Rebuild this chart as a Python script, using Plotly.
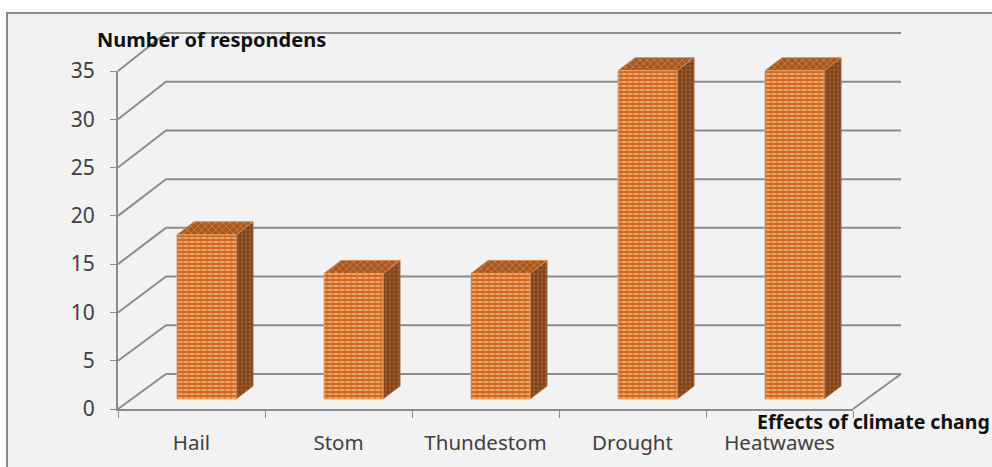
import plotly.graph_objects as go

categories = ["Hail", "Stom", "Thundestom", "Drought", "Heatwawes"]
respondents = [17, 13, 13, 34, 34]
y_ticks = [0, 5, 10, 15, 20, 25, 30, 35]
y_title = "Number of respondens"
x_title = "Effects of climate chang"

W, H = 992, 467
X0, X1 = 118, 853      # axis span in the frame
Y0, Y35 = 409, 71
wall_dx = 48 / 147      # depth of the 3-D box, category units
wall_rise = 35 / 9.657  # value units
wall_scale = 341 / 338
bar_shift = 15 / 147
bar_lift = 10 / 9.657
bar_w = 59 / 147
bar_dx = 17 / 147
bar_dy = 13 / 9.657

GRID = "#8c8c8c"
idx = list(range(len(categories)))
x_lo, x_hi = -0.5, len(categories) - 0.5
px_per_cat = (X1 - X0) / (x_hi - x_lo)
px_per_val = (Y0 - Y35) / 35
# the same scales stretched over the whole canvas, so the box can leave the axis span
x_full = [x_lo - X0 / px_per_cat, x_hi + (W - X1) / px_per_cat]
y_full = [(Y0 - H) / px_per_val, Y0 / px_per_val]

fig = go.Figure()

# axes carrier: holds the real ticks and labels
fig.add_trace(go.Scatter(x=idx, y=respondents, mode="markers", marker=dict(opacity=0),
                         hoverinfo="skip", showlegend=False))

# side wall and back wall grid lines, plus the floor
gx, gy = [], []
for t in y_ticks:
    back = t * wall_scale + wall_rise
    gx += [x_lo, x_lo + wall_dx, x_hi + wall_dx, None]
    gy += [t, back, back, None]
gx += [x_hi, x_hi + wall_dx, None]
gy += [0, wall_rise, None]
fig.add_trace(go.Scatter(x=gx, y=gy, mode="lines", line=dict(color=GRID, width=2),
                         xaxis="x2", yaxis="y2", hoverinfo="skip", showlegend=False))

# side and top faces
sx, sy, tx, ty = [], [], [], []
for i, v in zip(idx, respondents):
    l = i + bar_shift - bar_w / 2
    r = i + bar_shift + bar_w / 2
    top = v + bar_lift
    sx += [r, r + bar_dx, r + bar_dx, r, r, None]
    sy += [bar_lift, bar_lift + bar_dy, top + bar_dy, top, bar_lift, None]
    tx += [l, l + bar_dx, r + bar_dx, r, l, None]
    ty += [top, top + bar_dy, top + bar_dy, top, top, None]
fig.add_trace(go.Scatter(x=sx, y=sy, mode="lines", fill="toself", line=dict(color="#a8683a", width=1),
                         fillcolor="#7d4016", xaxis="x2", yaxis="y2",
                         fillpattern=dict(shape="+", size=4, solidity=0.3, fgcolor="#d3a072", bgcolor="#7d4016"),
                         hoverinfo="skip", showlegend=False))
fig.add_trace(go.Scatter(x=tx, y=ty, mode="lines", fill="toself", line=dict(color="#d98a4a", width=1),
                         fillcolor="#b5611f", xaxis="x2", yaxis="y2",
                         fillpattern=dict(shape="x", size=5, solidity=0.3, fgcolor="#eab27e", bgcolor="#a9561b"),
                         hoverinfo="skip", showlegend=False))

# front faces on a top layer
bar_x = [i + bar_shift for i in idx]
fig.add_trace(go.Bar(x=bar_x, y=respondents, base=bar_lift, width=bar_w, showlegend=False, hoverinfo="skip",
                     xaxis="x3", yaxis="y3",
                     marker=dict(color="#d2691e", line=dict(color="#eda468", width=1),
                                 pattern=dict(shape="-", size=4, solidity=0.5, fgcolor="#ffe6c4", bgcolor="#d2691e"))))
fig.add_trace(go.Bar(x=bar_x, y=respondents, base=bar_lift, width=bar_w, showlegend=False, hoverinfo="skip",
                     xaxis="x3", yaxis="y3",
                     marker=dict(color="rgba(0,0,0,0)", line=dict(width=0),
                                 pattern=dict(shape="|", size=6, solidity=0.45, fgcolor="#d2691e", bgcolor="rgba(0,0,0,0)"))))

x_domain = [X0 / W, X1 / W]
y_domain = [(H - Y0) / H, (H - Y35) / H]
fig.update_layout(
    width=W, height=H, margin=dict(l=0, r=0, t=0, b=0, autoexpand=False), paper_bgcolor="white",
    plot_bgcolor="rgba(0,0,0,0)", barmode="overlay", showlegend=False,
    font=dict(family="Noto Sans", color="#404040"),
    xaxis=dict(domain=x_domain, range=[x_lo, x_hi], tickvals=idx, ticktext=categories, automargin=False,
               ticks="", ticklen=0, showgrid=False, zeroline=False, showline=True, linecolor=GRID, linewidth=2,
               tickfont=dict(size=20.5, color="#404040"), ticklabelstandoff=14,
               minor=dict(tickvals=[i - 0.5 for i in range(len(categories) + 1)], ticks="outside", ticklen=7,
                          tickcolor=GRID, tickwidth=1, showgrid=False)),
    yaxis=dict(domain=y_domain, range=[0, 35], tickvals=y_ticks, automargin=False,
               ticks="outside", ticklen=6, tickcolor=GRID, tickwidth=1, showgrid=False, zeroline=False,
               showline=True, linecolor=GRID, linewidth=2,
               tickfont=dict(size=21, color="#404040"), ticklabelstandoff=11),
    xaxis2=dict(domain=[0, 1], range=x_full, visible=False, anchor="y2"),
    yaxis2=dict(domain=[0, 1], range=y_full, visible=False, anchor="x2"),
    xaxis3=dict(domain=[0, 1], range=x_full, visible=False, anchor="y3"),
    yaxis3=dict(domain=[0, 1], range=y_full, visible=False, anchor="x3"),
    shapes=[dict(type="rect", xref="paper", yref="paper", x0=7 / W, x1=1.02, y0=-0.02, y1=(H - 13) / H,
                 fillcolor="#f2f2f2", line=dict(color="#8a8a8a", width=2), layer="below")],
    annotations=[
        dict(text="<b>%s</b>" % y_title, xref="paper", yref="paper", x=95 / W, y=(H - 40) / H, xanchor="left",
             yanchor="middle", showarrow=False, font=dict(size=20, color="#111111", family="Noto Sans")),
        dict(text="<b>%s</b>" % x_title, xref="paper", yref="paper", x=755 / W, y=(H - 422) / H, xanchor="left",
             yanchor="middle", showarrow=False, font=dict(size=19.5, color="#111111", family="Noto Sans")),
    ],
)
fig.write_html("out.html", config=dict(displayModeBar=False),
               post_script="document.body.style.margin='0';document.body.style.overflow='hidden';")
